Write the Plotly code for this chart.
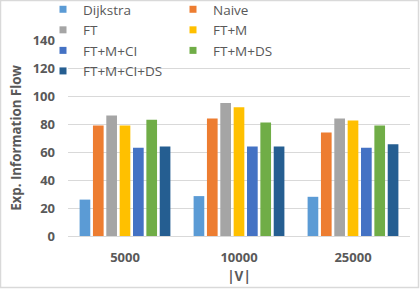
import plotly.graph_objects as go

categories = ["5000", "10000", "25000"]
series_names = ["Dijkstra", "Naive", "FT", "FT+M", "FT+M+CI", "FT+M+DS", "FT+M+CI+DS"]
dijkstra = [26, 28.5, 28]
naive = [79, 84, 74]
ft = [86, 95, 84]
ft_m = [79, 92, 82.5]
ft_m_ci = [63, 64, 63]
ft_m_ds = [83, 81, 79]
ft_m_ci_ds = [64, 64, 65.5]
y_ticks = [0, 20, 40, 60, 80, 100, 120, 140]

series_values = [dijkstra, naive, ft, ft_m, ft_m_ci, ft_m_ds, ft_m_ci_ds]
colors = ["#5B9BD5", "#ED7D31", "#A5A5A5", "#FFC000", "#4472C4", "#70AD47", "#255E91"]

FONT = "Open Sans"
GRAY = "#595959"

fig = go.Figure()
for name, vals, c in zip(series_names, series_values, colors):
    fig.add_trace(go.Bar(x=categories, y=vals, name=name, marker_color=c,
                         marker_line_width=0, showlegend=False))
# legend entries with small square swatches, laid out in two columns (two legends)
for i, (name, c) in enumerate(zip(series_names, colors)):
    fig.add_trace(go.Scatter(x=[None], y=[None], mode="markers", name=name,
                             legend="legend" if i % 2 == 0 else "legend2",
                             marker=dict(symbol="square", size=7, color=c)))

W, H = 420, 289
L, R, T, B = 68, 10, 40, 53
pw, ph = W - L - R, H - T - B

def px_x(p):
    return (p - L) / pw

def px_y(p):
    return (H - B - p) / ph

legend_common = dict(orientation="v", xanchor="left", y=px_y(-6), yanchor="top",
                     font=dict(size=13.5, color=GRAY, family=FONT),
                     bgcolor="rgba(0,0,0,0)", itemwidth=30, tracegroupgap=0)

fig.update_layout(
    width=W, height=H,
    margin=dict(l=L, r=R, t=T, b=B, autoexpand=False),
    paper_bgcolor="white", plot_bgcolor="white",
    barmode="group", bargap=0.18, bargroupgap=0.2,
    font=dict(family=FONT, color=GRAY),
    showlegend=True,
    legend=dict(x=px_x(43), **legend_common),
    legend2=dict(x=px_x(173), **legend_common),
    xaxis=dict(type="category", showgrid=False, showline=True, linecolor="#D9D9D9",
               linewidth=1, ticks="", ticklabelstandoff=9, automargin=False,
               tickfont=dict(size=13, color=GRAY, family=FONT, weight="bold"),
               title=dict(text="|V|", standoff=6,
                          font=dict(size=13.5, color=GRAY, family=FONT, weight="bold"))),
    yaxis=dict(range=[0, 140], tickvals=y_ticks, showgrid=True, gridcolor="#D9D9D9",
               gridwidth=1, zeroline=False, ticks="", ticklabelstandoff=12, automargin=False,
               tickfont=dict(size=13, color=GRAY, family=FONT, weight="bold"),
               title=dict(text="Exp. Information Flow", standoff=8,
                          font=dict(size=13.3, color=GRAY, family=FONT, weight="bold"))),
    shapes=[dict(type="rect", xref="paper", yref="paper",
                 x0=px_x(0.5), x1=px_x(418.5), y0=px_y(287.5), y1=px_y(0.5),
                 line=dict(color="#D9D9D9", width=1.5), layer="below")],
)

fig.write_html("out.html", config={"displayModeBar": False},
               post_script="document.body.style.margin='0';")
